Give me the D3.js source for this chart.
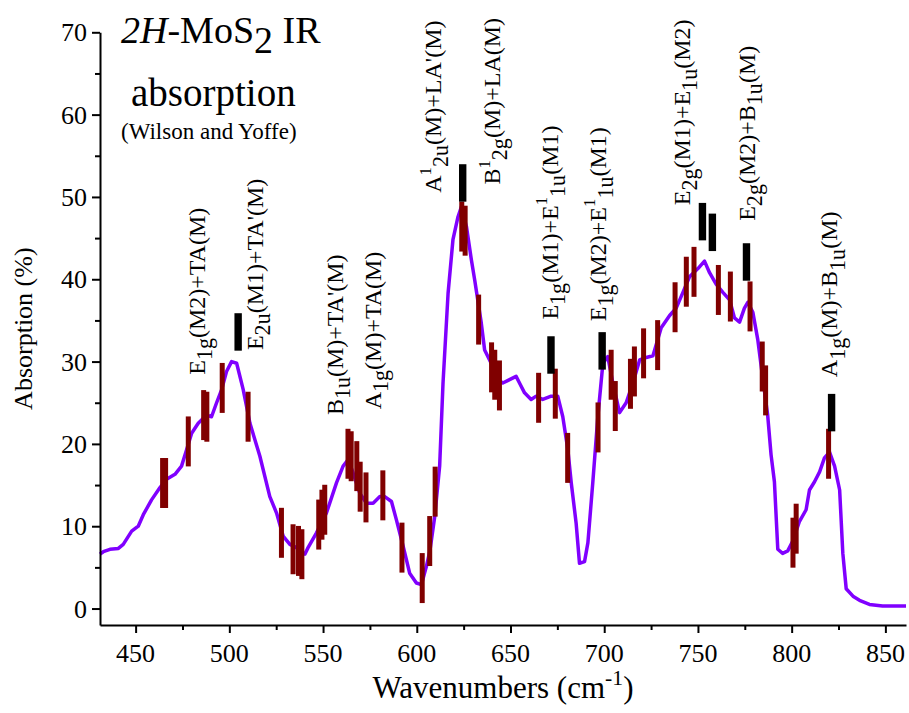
<!DOCTYPE html>
<html>
<head>
<meta charset="utf-8">
<script src="https://d3js.org/d3.v7.min.js"></script>
<style>
  body { margin: 0; background: #fff; }
</style>
</head>
<body>
<script>
// IR absorption curve [wavenumber, absorption %]
var curve = [
  [431.0, 6.6], [432.8, 6.9], [436.3, 7.2], [440.8, 7.3], [443.4, 7.8], [447.9, 9.4],
  [451.4, 10.0], [454.1, 11.4], [458.5, 13.2], [463.0, 14.7], [466.5, 15.7], [471.0, 16.3],
  [474.5, 17.3], [477.2, 19.3], [479.9, 21.3], [483.4, 22.5], [487.9, 23.5], [490.5, 23.3],
  [493.2, 25.0], [495.9, 26.6], [498.5, 28.8], [501.2, 30.0], [503.9, 29.8], [507.4, 26.6],
  [511.0, 22.5], [516.3, 18.5], [521.6, 13.6], [525.2, 11.6], [528.7, 8.8], [532.3, 7.8],
  [535.8, 7.4], [540.3, 6.6], [542.0, 7.4], [546.5, 9.2], [551.8, 11.6], [557.2, 15.3],
  [560.7, 17.3], [563.4, 18.1], [566.0, 16.5], [569.6, 14.0], [573.2, 12.8], [576.7, 12.8],
  [580.3, 13.6], [582.9, 13.6], [586.5, 13.0], [589.1, 10.8], [592.7, 7.6], [596.2, 4.3],
  [599.8, 3.1], [602.5, 2.9], [605.1, 5.1], [607.0, 7.0], [609.6, 11.2], [612.2, 17.3],
  [614.0, 27.4], [616.7, 38.3], [619.3, 44.8], [622.0, 47.6], [623.8, 48.8], [626.5, 46.4],
  [629.1, 42.4], [630.9, 39.9], [634.4, 34.7], [636.2, 31.4], [639.7, 29.8], [643.3, 27.8],
  [645.9, 27.4], [649.5, 27.8], [653.0, 28.2], [654.8, 27.4], [657.5, 26.2], [661.0, 25.4],
  [663.7, 25.8], [667.2, 25.4], [671.7, 25.8], [675.2, 25.8], [677.9, 23.3], [680.6, 19.3],
  [682.4, 15.3], [685.0, 10.4], [686.8, 5.5], [689.5, 5.7], [691.3, 8.0], [693.9, 15.3],
  [696.6, 23.3], [699.3, 29.8], [701.9, 30.6], [704.6, 27.4], [708.2, 23.8], [711.7, 25.0],
  [715.3, 27.4], [718.9, 30.2], [722.4, 30.5], [726.0, 30.7], [730.4, 34.1], [734.9, 35.6],
  [738.4, 36.5], [742.0, 38.4], [745.5, 40.3], [750.0, 41.3], [753.5, 42.2], [756.2, 40.8],
  [759.7, 39.4], [763.3, 38.4], [766.9, 37.5], [769.5, 35.3], [772.2, 34.8], [774.8, 36.5],
  [776.6, 37.2], [779.3, 36.0], [781.9, 32.7], [784.6, 27.9], [787.2, 23.5], [789.0, 18.7],
  [790.8, 15.4], [792.6, 7.2], [795.2, 6.7], [797.9, 7.0], [800.6, 8.2], [804.2, 10.6],
  [807.7, 12.0], [809.5, 14.4], [812.2, 15.4], [814.9, 16.6], [817.5, 18.3], [820.2, 19.0],
  [822.9, 17.3], [825.6, 14.4], [827.3, 6.7], [829.1, 2.4], [832.7, 1.5], [836.2, 1.0],
  [841.5, 0.5], [848.5, 0.3], [861.0, 0.3]
];

// calculated combination modes (dark red bars): [wavenumber, centre %]
var redBars = [
  [464.4, 15.25], [466.0, 15.25], [478.1, 20.3], [486.3, 23.5], [488.0, 23.3], [496.2, 26.8],
  [510.0, 23.3], [527.8, 9.2], [534.0, 7.2], [536.9, 7.0], [538.7, 6.6], [547.7, 10.2],
  [549.4, 11.4], [550.9, 12.0], [563.3, 18.8], [565.0, 18.5], [568.0, 17.3], [569.8, 14.8],
  [572.9, 13.5], [581.9, 13.75], [592.1, 7.4], [602.9, 3.7], [606.9, 8.2], [609.8, 14.2],
  [624.0, 46.4], [625.8, 45.9], [633.0, 35.1], [639.9, 29.3], [641.6, 28.4], [644.1, 27.1],
  [665.0, 25.6], [673.9, 26.1], [680.5, 18.3], [696.7, 22.0], [703.7, 28.4], [705.9, 24.6],
  [714.0, 27.3], [716.1, 28.8], [721.0, 31.0], [728.5, 32.0], [737.8, 36.6], [743.8, 39.7],
  [747.9, 40.9], [760.9, 38.7], [767.3, 37.9], [777.8, 36.7], [784.3, 29.4], [786.1, 26.5],
  [800.7, 8.0], [802.4, 9.7], [819.7, 18.8]
];

// assigned modes (black markers)
var blackBars = [
  [504.7, 33.6], [624.5, 51.7], [671.6, 30.8], [698.9, 31.3],
  [752.4, 47.0], [757.7, 45.7], [775.9, 42.1], [821.3, 23.8]
];

// mode labels: text, wavenumber, % at text start
var labels = [
  ["E_{1g}(M2)+TA(M)", 487.0, 28.4],
  ["E_{2u}(M1)+TA'(M)", 517.9, 31.4],
  ["B_{1u}(M)+TA'(M)", 560.5, 23.5],
  ["A_{1g}(M)+TA(M)", 580.8, 24.2],
  ["A^{1}_{2u}(M)+LA'(M)", 612.8, 50.5],
  ["B^{1}_{2g}(M)+LA(M)", 644.2, 51.5],
  ["E_{1g}(M1)+E^{1}_{1u}(M1)", 675.1, 35.1],
  ["E_{1g}(M2)+E^{1}_{1u}(M1)", 700.7, 34.9],
  ["E_{2g}(M1)+E_{1u}(M2)", 745.5, 49.0],
  ["E_{2g}(M2)+B_{1u}(M)", 780.2, 47.1],
  ["A_{1g}(M)+B_{1u}(M)", 824.4, 28.1]
];

var xMajor = [450, 500, 550, 600, 650, 700, 750, 800, 850];
var xMinor = [475, 525, 575, 625, 675, 725, 775, 825];
var yMajor = [0, 10, 20, 30, 40, 50, 60, 70];
var yMinor = [5, 15, 25, 35, 45, 55, 65];

var W = 909, H = 713;
var svg = d3.select("body").append("svg")
  .attr("width", W).attr("height", H);

var x = d3.scaleLinear().domain([431, 861]).range([100, 906]);
var y = d3.scaleLinear().domain([-2, 70]).range([625, 32.3]);

// every text gets the serif face and its size right when it is made
function addText(parent, size) {
  return parent.append("text")
    .style("font-family", "'Liberation Serif'")
    .style("font-size", size + "px")
    .attr("fill", "#000");
}

// rich text with _{sub} and ^{sup}
function richText(t, str, fs) {
  var parts = str.match(/_\{[^}]*\}|\^\{[^}]*\}|[^_^]+/g);
  var shift = 0;
  parts.forEach(function(p) {
    var s = 0, txt = p, size = fs;
    if (p[0] === "_") { s = 0.3 * fs; txt = p.slice(2, -1); size = fs * 0.92; }
    else if (p[0] === "^") { s = -0.42 * fs; txt = p.slice(2, -1); size = fs * 0.7; }
    t.append("tspan")
      .attr("dy", s - shift)
      .style("font-size", size + "px")
      .text(txt);
    shift = s;
  });
}

// curve
var line = d3.line()
  .x(function(d) { return x(d[0]); })
  .y(function(d) { return y(d[1]); });

svg.append("path")
  .datum(curve)
  .attr("fill", "none")
  .attr("stroke", "#8000ff")
  .attr("stroke-width", 3.5)
  .attr("stroke-linejoin", "round")
  .attr("d", line);

// red bars (height ~6 %)
var redH = 6.07, blackH = 4.55;
svg.append("g").selectAll("rect")
  .data(redBars)
  .enter().append("rect")
    .attr("x", function(d) { return x(d[0]) - 2.5; })
    .attr("width", 5)
    .attr("y", function(d) { return y(d[1] + redH / 2); })
    .attr("height", function(d) { return y(d[1] - redH / 2) - y(d[1] + redH / 2); })
    .attr("fill", "#800000");

svg.append("g").selectAll("rect")
  .data(blackBars)
  .enter().append("rect")
    .attr("x", function(d) { return x(d[0]) - 3.7; })
    .attr("width", 7.4)
    .attr("y", function(d) { return y(d[1] + blackH / 2); })
    .attr("height", function(d) { return y(d[1] - blackH / 2) - y(d[1] + blackH / 2); })
    .attr("fill", "#000");

// axes: lines and ticks from d3, tick labels drawn as our own texts
var gx = svg.append("g")
  .attr("transform", "translate(0," + y(-2) + ")")
  .call(d3.axisBottom(x).tickValues(xMajor).tickSize(8).tickSizeOuter(0).tickFormat(""));
svg.append("g")
  .attr("transform", "translate(0," + y(-2) + ")")
  .call(d3.axisBottom(x).tickValues(xMinor).tickSize(5).tickSizeOuter(0).tickFormat(""))
  .select(".domain").remove();

var gy = svg.append("g")
  .attr("transform", "translate(" + x(431) + ",0)")
  .call(d3.axisLeft(y).tickValues(yMajor).tickSize(8).tickSizeOuter(0).tickFormat(""));
svg.append("g")
  .attr("transform", "translate(" + x(431) + ",0)")
  .call(d3.axisLeft(y).tickValues(yMinor).tickSize(5).tickSizeOuter(0).tickFormat(""))
  .select(".domain").remove();

svg.selectAll(".domain, .tick line")
  .attr("stroke", "#000")
  .attr("stroke-width", 2);
svg.selectAll(".tick text").remove();

var fsTick = 26;
xMajor.forEach(function(v) {
  addText(svg, fsTick)
    .attr("x", x(v)).attr("y", y(-2) + 37)
    .attr("text-anchor", "middle")
    .text(v);
});
yMajor.forEach(function(v) {
  addText(svg, fsTick)
    .attr("x", x(431) - 13).attr("y", y(v) + 9)
    .attr("text-anchor", "end")
    .text(v);
});

// axis titles
var xt = addText(svg, 31)
  .attr("x", (x.range()[0] + x.range()[1]) / 2)
  .attr("y", 698)
  .attr("text-anchor", "middle");
richText(xt, "Wavenumbers (cm^{-1})", 31);

addText(svg, 26)
  .attr("transform", "translate(32," + (y(-2) + y(70)) / 2 + ")rotate(-90)")
  .attr("text-anchor", "middle")
  .text("Absorption (%)");

// title block
var t1 = addText(svg, 38).attr("x", 121).attr("y", 43);
t1.append("tspan").style("font-style", "italic").text("2H");
t1.append("tspan").text("-MoS");
t1.append("tspan").attr("dy", 10).text("2");
t1.append("tspan").attr("dy", -10).text(" IR");

addText(svg, 39).attr("x", 131).attr("y", 106).text("absorption");
addText(svg, 23).attr("x", 121).attr("y", 139).text("(Wilson and Yoffe)");

// mode labels, rotated
var fsLab = 24;
labels.forEach(function(l) {
  var t = addText(svg, fsLab)
    .attr("transform", "translate(" + x(l[1]) + "," + y(l[2]) + ")rotate(-90)");
  richText(t, l[0], fsLab);
});
</script>
</body>
</html>
